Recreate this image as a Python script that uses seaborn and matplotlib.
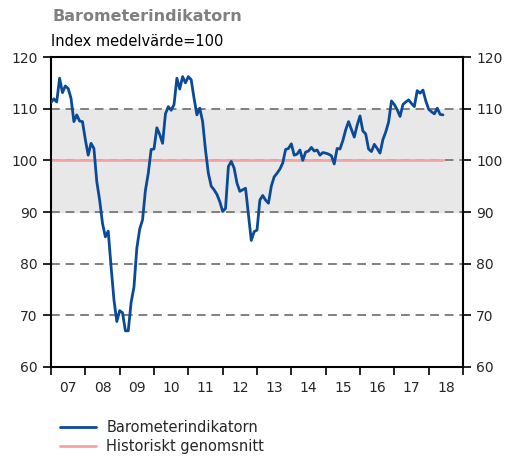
import numpy as np
import pandas as pd
import seaborn as sns
import matplotlib.pyplot as plt

# monthly index, Jan 2007 - Jun 2018
barometer = [
    111.2, 111.9, 111.3, 115.9, 113.1, 114.4, 113.9, 112.0, 107.5, 108.8, 107.6, 107.5,  # 2007
    104.0, 101.0, 103.3, 102.3, 95.9, 92.3, 87.8, 85.2, 86.3, 79.4, 73.0, 68.8,  # 2008
    70.9, 70.5, 67.0, 67.0, 72.5, 75.5, 83.0, 86.7, 88.5, 94.2, 97.5, 102.1,  # 2009
    102.2, 106.3, 105.0, 103.3, 109.0, 110.4, 109.7, 110.8, 115.9, 113.8, 116.2, 115.0,  # 2010
    116.2, 115.6, 112.0, 108.8, 110.1, 107.5, 102.0, 97.5, 95.0, 94.3, 93.4, 92.0,  # 2011
    90.1, 90.7, 98.8, 99.8, 98.5, 95.6, 94.0, 94.3, 94.6, 89.5, 84.5, 86.2,  # 2012
    86.5, 92.3, 93.2, 92.3, 91.7, 95.0, 96.8, 97.5, 98.3, 99.5, 102.1, 102.3,  # 2013
    103.2, 101.0, 101.2, 102.0, 100.0, 101.6, 101.8, 102.5, 101.8, 102.0, 101.0, 101.5,  # 2014
    101.4, 101.2, 100.9, 99.3, 102.3, 102.2, 103.8, 105.9, 107.5, 106.0, 104.5, 106.8,  # 2015
    108.6, 105.7, 105.1, 102.2, 101.7, 103.1, 102.3, 101.4, 104.0, 105.5, 107.4, 111.5,  # 2016
    110.8, 109.8, 108.5, 110.8, 111.3, 111.7, 111.0, 110.4, 113.5, 113.0, 113.6, 111.5,  # 2017
    109.9, 109.4, 109.0, 110.1, 108.9, 108.8,  # 2018
]
historical_avg = 100
year_labels = ["07", "08", "09", "10", "11", "12", "13", "14", "15", "16", "17", "18"]
y_ticks = [60, 70, 80, 90, 100, 110, 120]

t = 2007 + np.arange(len(barometer)) / 12
df = pd.DataFrame({"t": t, "Barometerindikatorn": barometer,
                   "Historiskt genomsnitt": historical_avg})

sns.set_theme(style="ticks")
plt.rcParams["font.family"] = ["DejaVu Sans"]

fig = plt.figure(figsize=(5.06, 4.58), dpi=100)
ax = fig.add_axes([0.1008, 0.1987, 0.8142, 0.6768])

ax.axhspan(90, 110, color="#e8e8e8", zorder=0)
for y in [70, 80, 90, 100, 110]:
    ax.axhline(y, color="#808080", lw=1.4, ls=(0, (4.5, 3)), zorder=1)

sns.lineplot(data=df, x="t", y="Historiskt genomsnitt", ax=ax, color="#f5a3a3",
             lw=2, label="Historiskt genomsnitt", zorder=2)
sns.lineplot(data=df, x="t", y="Barometerindikatorn", ax=ax, color="#0a4a97",
             lw=2, label="Barometerindikatorn", zorder=3)

ax.set_xlim(2007, 2019)
ax.set_ylim(60, 120)
ax.set_xlabel("")
ax.set_ylabel("")
ax.set_yticks(y_ticks)
ax.set_xticks(np.arange(2007, 2020))
ax.set_xticklabels([])
ax.set_xticks(np.arange(2007, 2019) + 0.5, minor=True)
ax.set_xticklabels(year_labels, minor=True)
ax.tick_params(axis="x", which="minor", length=0, pad=10, labelsize=10)
ax.tick_params(axis="x", which="major", length=6, width=1.2, color="black", direction="out")
ax.tick_params(axis="y", length=6, width=1.2, color="black", labelsize=10,
               left=True, right=True, labelleft=True, labelright=True)
for s in ax.spines.values():
    s.set_color("black")
    s.set_linewidth(1.5)

h, l = ax.get_legend_handles_labels()
ax.get_legend().remove()
order = [l.index("Barometerindikatorn"), l.index("Historiskt genomsnitt")]
fig.legend([h[i] for i in order], [l[i] for i in order], loc="lower left",
           bbox_to_anchor=(0.092, -0.02), frameon=False, fontsize=10.5,
           handlelength=2.5, handletextpad=0.7, labelspacing=0.3)

fig.text(0.103, 0.955, "Barometerindikatorn", fontsize=11.5, fontweight="bold",
         color="#808080", va="baseline")
fig.text(0.1, 0.9, "Index medelvärde=100", fontsize=10.5, color="black", va="baseline")

plt.savefig("out.png", dpi=100)
